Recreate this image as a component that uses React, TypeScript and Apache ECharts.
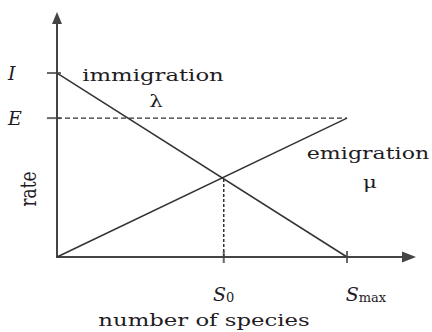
import React, { useEffect, useRef } from "react";
import * as echarts from "echarts";

// Rates (vertical) against number of species (horizontal), both normalised.
const immigration = [[0, 1], [1, 0]];
const emigration = [[0, 0], [1, 0.755]];
const emigrationCeiling = [[0, 0.755], [1, 0.755]];
const equilibriumDrop = [[0.575, 0], [0.575, 0.43]];

const speciesTickValues = [0.575, 1];
const speciesTickLabels = ["{s|S}{sub|0}", "{pad| }{s|S}{sub|max}"];
const rateTickValues = [0.755, 1];
const rateTickLabels = ["E", "I"];

const X_MAX = 1.2138;
const Y_MAX = 1.299;

const INK = "#1f1c1f";
const LINE = "#333333";
const AXIS = "#444444";
const SERIF = "DejaVu Serif";
const STRETCH = 1.34;

export default function App() {
  const ref = useRef<HTMLDivElement>(null);

  useEffect(() => {
    if (!ref.current) return;
    const chart = echarts.init(ref.current, null, { renderer: "svg" });

    const lineStyleBase = { color: LINE, width: 1.5 };

    chart.setOption({
      animation: false,
      backgroundColor: "#ffffff",
      grid: { left: 57, right: 23, top: 18, bottom: 75 },
      xAxis: {
        type: "value",
        min: 0,
        max: X_MAX,
        splitLine: { show: false },
        axisTick: { show: false },
        axisLine: {
          onZero: false,
          lineStyle: { color: AXIS, width: 2 },
          symbol: ["none", "triangle"],
          symbolSize: [11, 14],
        },
        axisLabel: {
          customValues: speciesTickValues,
          formatter: (v: number) =>
            speciesTickLabels[speciesTickValues.indexOf(v)] ?? "",
          margin: 26,
          verticalAlign: "top",
          align: "center",
          color: INK,
          rich: {
            s: { fontFamily: SERIF, fontStyle: "italic", fontSize: 19, color: INK },
            sub: { fontFamily: SERIF, fontSize: 13, color: INK, padding: [8, 0, 0, 0] },
            pad: { width: 38 },
          },
        },
      },
      yAxis: {
        type: "value",
        min: 0,
        max: Y_MAX,
        splitLine: { show: false },
        axisTick: { show: false },
        axisLine: {
          onZero: false,
          lineStyle: { color: AXIS, width: 2 },
          symbol: ["none", "triangle"],
          symbolSize: [10, 12],
        },
        axisLabel: {
          customValues: rateTickValues,
          formatter: (v: number) => rateTickLabels[rateTickValues.indexOf(v)] ?? "",
          align: "left",
          margin: 49,
          fontFamily: SERIF,
          fontStyle: "italic",
          fontSize: 19,
          color: INK,
          padding: [6, 0, 0, 0],
        },
      },
      series: [
        {
          name: "immigration",
          type: "line",
          data: immigration,
          symbol: "none",
          lineStyle: lineStyleBase,
          z: 3,
        },
        {
          name: "emigration",
          type: "line",
          data: emigration,
          symbol: "none",
          lineStyle: lineStyleBase,
          z: 3,
        },
        {
          name: "E level",
          type: "line",
          data: emigrationCeiling,
          symbol: "none",
          lineStyle: { color: LINE, width: 1.3, type: [5, 3] },
          z: 2,
        },
        {
          name: "S0",
          type: "line",
          data: equilibriumDrop,
          symbol: "none",
          lineStyle: { color: LINE, width: 1.5, type: [3, 2] },
          z: 2,
        },
        {
          name: "x ticks",
          type: "scatter",
          data: speciesTickValues.map((v) => [v, 0]),
          symbol: "rect",
          symbolSize: [2, 12],
          itemStyle: { color: AXIS },
          silent: true,
          z: 4,
        },
        {
          name: "y ticks",
          type: "scatter",
          data: rateTickValues.map((v) => [0, v]),
          symbol: "rect",
          symbolSize: [14, 2],
          symbolOffset: [-3, 0],
          itemStyle: { color: AXIS },
          silent: true,
          z: 4,
        },
      ],
      graphic: [
        {
          type: "text",
          x: 153,
          y: 75,
          scaleX: STRETCH,
          style: {
            text: "immigration",
            fontFamily: SERIF,
            fontSize: 17,
            fill: INK,
            align: "center",
            verticalAlign: "middle",
          },
        },
        {
          type: "text",
          x: 156,
          y: 101,
          scaleX: STRETCH,
          style: {
            text: "λ",
            fontFamily: SERIF,
            fontSize: 16,
            fill: INK,
            align: "center",
            verticalAlign: "middle",
          },
        },
        {
          type: "text",
          x: 368,
          y: 153,
          scaleX: 1.3,
          style: {
            text: "emigration",
            fontFamily: SERIF,
            fontSize: 17,
            fill: INK,
            align: "center",
            verticalAlign: "middle",
          },
        },
        {
          type: "text",
          x: 370,
          y: 182,
          scaleX: STRETCH,
          style: {
            text: "μ",
            fontFamily: SERIF,
            fontSize: 16,
            fill: INK,
            align: "center",
            verticalAlign: "middle",
          },
        },
        {
          type: "text",
          x: 28,
          y: 189,
          rotation: Math.PI / 2,
          scaleY: STRETCH,
          style: {
            text: "rate",
            fontFamily: SERIF,
            fontSize: 17,
            fill: INK,
            align: "center",
            verticalAlign: "middle",
          },
        },
        {
          type: "text",
          x: 204,
          y: 320,
          scaleX: STRETCH,
          style: {
            text: "number of species",
            fontFamily: SERIF,
            fontSize: 17,
            fill: INK,
            align: "center",
            verticalAlign: "middle",
          },
        },
      ],
    });

    return () => chart.dispose();
  }, []);

  return (
    <div
      ref={ref}
      style={{ position: "fixed", left: 0, top: 0, width: 432, height: 332 }}
    />
  );
}
